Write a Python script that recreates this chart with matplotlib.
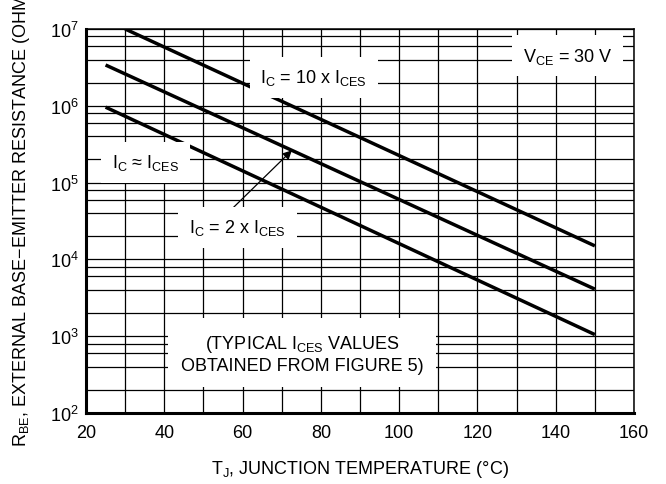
import numpy as np
import matplotlib
matplotlib.use('Agg')
import matplotlib.pyplot as plt
from matplotlib.ticker import MultipleLocator, LogLocator, NullFormatter

plt.rcParams['font.family'] = ['Liberation Sans', 'DejaVu Sans']
plt.rcParams['mathtext.default'] = 'regular'

# curves (straight lines on the log scale)
temp_10x = [30, 150]
rbe_10x = [1.0e7, 1.5e4]
temp_2x = [25, 150]
rbe_2x = [3.4e6, 4.1e3]
temp_1x = [25, 150]
rbe_1x = [9.6e5, 1.05e3]

x_ticks = [20, 40, 60, 80, 100, 120, 140, 160]
y_ticks = [1e2, 1e3, 1e4, 1e5, 1e6, 1e7]
y_tick_labels = [r'$10^{2}$', r'$10^{3}$', r'$10^{4}$', r'$10^{5}$', r'$10^{6}$', r'$10^{7}$']

fig = plt.figure(figsize=(6.66, 4.85), dpi=100)
ax = fig.add_axes([86 / 666, 71 / 485, 548 / 666, 384 / 485])

ax.set_yscale('log')
ax.set_xlim(20, 160)
ax.set_ylim(1e2, 1e7)

# grid: every 10 degC, and 2/4/6/8 per decade
ax.xaxis.set_major_locator(MultipleLocator(20))
ax.xaxis.set_minor_locator(MultipleLocator(10))
ax.yaxis.set_major_locator(LogLocator(base=10, subs=(1.0,)))
ax.yaxis.set_minor_locator(LogLocator(base=10, subs=(2, 4, 6, 8)))
ax.yaxis.set_minor_formatter(NullFormatter())
ax.set_xticks(x_ticks)
ax.set_yticks(y_ticks)
ax.set_yticklabels(y_tick_labels)
ax.grid(True, which='both', color='black', linewidth=0.9)
ax.set_axisbelow(True)
ax.tick_params(which='both', length=0, labelsize=13)
ax.tick_params(axis='x', pad=8)
ax.tick_params(axis='y', pad=5)

for side in ['left', 'bottom']:
    ax.spines[side].set_linewidth(2.2)
for side in ['top', 'right']:
    ax.spines[side].set_linewidth(1.1)

lw = 2.5
ax.plot(temp_10x, rbe_10x, color='black', linewidth=lw, solid_capstyle='butt', zorder=2)
ax.plot(temp_2x, rbe_2x, color='black', linewidth=lw, solid_capstyle='butt', zorder=2)
ax.plot(temp_1x, rbe_1x, color='black', linewidth=lw, solid_capstyle='butt', zorder=2)

box = dict(boxstyle='square,pad=0.6', facecolor='white', edgecolor='none')
fs = 13

ax.text(78.2, 2.02e6, r'$I_C$ = 10 x $I_{CES}$', fontsize=fs, ha='center', va='baseline',
        bbox=box, zorder=4)
ax.text(143.0, 3.87e6, r'$V_{CE}$ = 30 V', fontsize=fs, ha='center', va='baseline',
        bbox=box, zorder=4)
ax.text(35.2, 1.58e5, r'$I_C$ ≈ $I_{CES}$', fontsize=fs, ha='center', va='baseline',
        bbox=box, zorder=4)
ax.text(58.7, 2.25e4, r'$I_C$ = 2 x $I_{CES}$', fontsize=fs, ha='center', va='baseline',
        bbox=box, zorder=4)
ax.text(75.2, 6.0e2, '(TYPICAL $I_{CES}$ VALUES\nOBTAINED FROM FIGURE 5)', fontsize=fs,
        ha='center', va='center', multialignment='center', linespacing=1.25,
        bbox=dict(boxstyle='square,pad=0.7', facecolor='white', edgecolor='none'), zorder=4)

# arrow pointing at the 2 x ICES curve
tip_t = 72.6
tip_r = 10 ** np.interp(tip_t, temp_2x, np.log10(rbe_2x))
ax.annotate('', xy=(tip_t, tip_r), xytext=(57.2, 4.5e4),
            arrowprops=dict(arrowstyle='-|>', color='black', lw=0.9, mutation_scale=13,
                            shrinkA=0, shrinkB=0),
            zorder=3)

ax.set_xlabel(r'$T_J$, JUNCTION TEMPERATURE ($\degree$C)', fontsize=fs, labelpad=12)
ax.set_ylabel(r'$R_{BE}$, EXTERNAL BASE$-$EMITTER RESISTANCE (OHMS)', fontsize=fs)
ax.yaxis.set_label_coords(-0.098, 0.525)

fig.savefig('out.png', dpi=100, facecolor='white')
